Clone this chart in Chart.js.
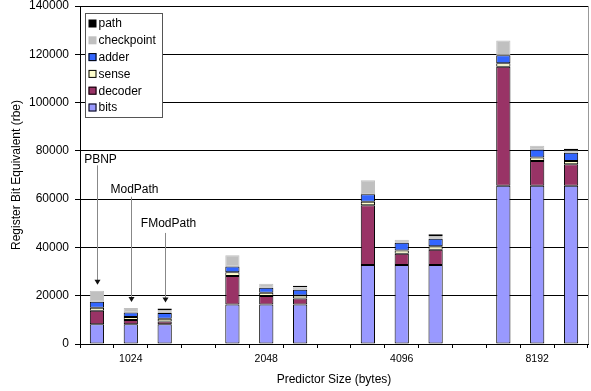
<!DOCTYPE html>
<html>
<head>
<meta charset="utf-8">
<script src="https://cdn.jsdelivr.net/npm/chart.js@4.4.1/dist/chart.umd.min.js"></script>
<style>
  html, body { margin: 0; padding: 0; background: #fff; }
  #wrap { width: 591px; height: 391px; }
</style>
</head>
<body>
<div id="wrap"><canvas id="chart"></canvas></div>
<script>
const sizes = ['1024', '2048', '4096', '8192']
const designs = ['PBNP', 'ModPath', 'FModPath']

// rbe per bar, size-major: PBNP, ModPath, FModPath for each size
const bits       = [8192, 8192, 8192, 16384, 16384, 16384, 32768, 32768, 32768, 65536, 65536, 65536]
const decoder    = [5600, 1700, 1100, 11800, 3500, 2500, 24700, 4600, 6300, 49300, 10300, 8900]
const sense      = [1200, 1300, 1200, 1500, 1300, 1200, 1500, 1400, 1400, 1400, 1400, 1400]
const adder      = [2500, 1900, 2400, 2400, 2100, 2400, 3100, 3200, 3100, 3400, 3300, 3400]
const checkpoint = [4600, 1800, 1000, 4700, 1700, 1000, 5800, 1200, 1200, 6100, 1600, 900]
const path       = [0, 0, 800, 0, 0, 600, 0, 0, 700, 0, 0, 700]

// callouts over the 1024 bars: where the label sits and where its leader starts
const calloutText = [76500, 64000, 50000]
const calloutTail = [74000, 61000, 46000]

const FONT = "'Liberation Sans', Arial, sans-serif"

// one slot per bar plus an empty slot between size groups
const slots = []
const slotOf = []
sizes.forEach((s, g) => {
    designs.forEach((d, i) => {
        slotOf.push(slots.length)
        slots.push(i === 1 ? s : '')
    })
    if (g < sizes.length - 1) slots.push('')
})

const spread = arr => {
    let out = slots.map(() => null)
    arr.forEach((v, k) => { out[slotOf[k]] = v })
    return out
}

const series = [
    {label: 'bits', data: bits, color: '#9999ff', border: '#000'},
    {label: 'decoder', data: decoder, color: '#993366', border: '#000'},
    {label: 'sense', data: sense, color: '#ffffcc', border: '#000'},
    {label: 'adder', data: adder, color: '#3366ff', border: '#000'},
    {label: 'checkpoint', data: checkpoint, color: '#c0c0c0', border: '#c0c0c0'},
    {label: 'path', data: path, color: '#000000', border: '#000'},
]

const boxLegend = {
    id: 'boxLegend',
    afterDraw(chart) {
        const ctx = chart.ctx
        const {left, top, right} = chart.chartArea
        // right edge of plot area
        ctx.save()
        ctx.strokeStyle = '#999'
        ctx.lineWidth = 1
        ctx.beginPath()
        ctx.moveTo(Math.round(right) + 0.5, top)
        ctx.lineTo(Math.round(right) + 0.5, chart.chartArea.bottom)
        ctx.stroke()

        const x = Math.round(left) + 5.5, y = Math.round(top) + 7.5
        const w = 77, h = 104, row = 16.8
        ctx.fillStyle = '#fff'
        ctx.fillRect(x, y, w, h)
        ctx.strokeStyle = '#555'
        ctx.strokeRect(x, y, w, h)
        ctx.font = '12px ' + FONT
        ctx.textBaseline = 'middle'
        ctx.textAlign = 'left'
        const items = [...series].reverse()
        items.forEach((s, i) => {
            const cy = y + 10 + i * row
            ctx.fillStyle = s.color
            ctx.fillRect(x + 3, cy - 4, 8, 8)
            if (s.label !== 'checkpoint' && s.label !== 'path') {
                ctx.strokeStyle = '#000'
                ctx.strokeRect(x + 3.5, cy - 3.5, 7, 7)
            }
            ctx.fillStyle = '#000'
            ctx.fillText(s.label, x + 13, cy + 0.5)
        })
        ctx.restore()
    }
}

const callouts = {
    id: 'callouts',
    afterDatasetsDraw(chart) {
        const ctx = chart.ctx
        const xs = chart.scales.x, ys = chart.scales.y
        ctx.save()
        ctx.font = '12px ' + FONT
        ctx.textAlign = 'center'
        ctx.textBaseline = 'middle'
        designs.forEach((d, i) => {
            const total = series.reduce((a, s) => a + s.data[i], 0)
            const px = Math.round(xs.getPixelForValue(slotOf[i])) + 0.5
            const tip = ys.getPixelForValue(total + 2500)
            const tail = ys.getPixelForValue(calloutTail[i])
            ctx.fillStyle = '#000'
            ctx.fillText(d, px + 3, ys.getPixelForValue(calloutText[i]))
            ctx.strokeStyle = '#888'
            ctx.lineWidth = 1
            ctx.beginPath()
            ctx.moveTo(px, tail)
            ctx.lineTo(px, tip - 4)
            ctx.stroke()
            ctx.fillStyle = '#111'
            ctx.beginPath()
            ctx.moveTo(px - 3, tip - 5)
            ctx.lineTo(px + 3, tip - 5)
            ctx.lineTo(px, tip)
            ctx.closePath()
            ctx.fill()
        })
        ctx.restore()
    }
}

new Chart(document.getElementById('chart'), {
    type: 'bar',
    data: {
        labels: slots,
        datasets: series.map(s => ({
            label: s.label,
            data: spread(s.data),
            backgroundColor: s.color,
            borderColor: s.border,
            borderWidth: 1,
            borderSkipped: false,
            barPercentage: 0.42,
            categoryPercentage: 1,
            stack: 'rbe',
        }))
    },
    options: {
        responsive: true,
        maintainAspectRatio: false,
        animation: false,
        layout: {padding: {left: 0, right: 3, top: 6, bottom: 4}},
        plugins: {legend: {display: false}, tooltip: {enabled: false}},
        scales: {
            x: {
                stacked: true,
                offset: true,
                grid: {offset: true, drawOnChartArea: false, color: '#000', tickLength: 4},
                border: {color: '#000'},
                ticks: {autoSkip: false, maxRotation: 0, color: '#000', padding: 5, font: {family: FONT, size: 10.5}},
                title: {display: true, text: 'Predictor Size (bytes)', color: '#000', font: {family: FONT, size: 12}, padding: {top: 2, bottom: 0}},
            },
            y: {
                stacked: true,
                min: 0,
                max: 140000,
                grid: {color: '#000', tickLength: 5},
                border: {color: '#000'},
                ticks: {stepSize: 20000, color: '#000', padding: 6, font: {family: FONT, size: 12}, callback: v => String(v)},
                title: {display: true, text: 'Register Bit Equivalent (rbe)', color: '#000', font: {family: FONT, size: 12}, padding: {top: 9, bottom: 0}},
                afterFit: s => { s.width = 80; s.paddingTop = 0 },
            }
        }
    },
    plugins: [callouts, boxLegend]
})
</script>
</body>
</html>
